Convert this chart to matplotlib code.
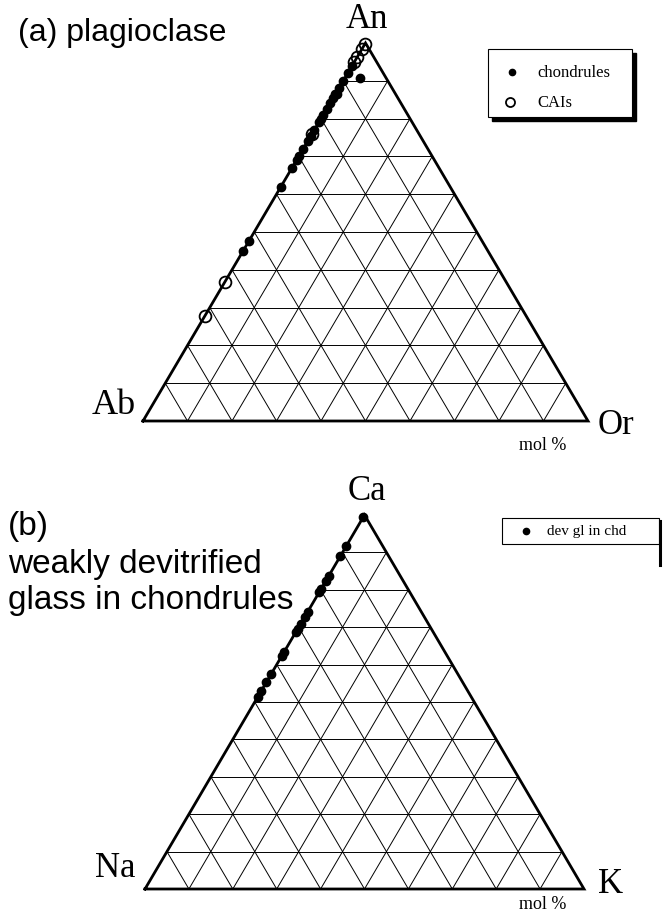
import numpy as np
import matplotlib
matplotlib.use('Agg')
import matplotlib.pyplot as plt
from matplotlib.patches import Rectangle

plt.rcParams['font.family'] = ['Liberation Serif', 'DejaVu Serif']
SANS = ['Liberation Sans', 'DejaVu Sans']

# (a) plagioclase, mol fractions (An, Or); Ab is the rest
chd_an = [0.94, 0.92, 0.90, 0.88, 0.865, 0.865, 0.855, 0.84, 0.825, 0.81,
          0.80, 0.79, 0.77, 0.755, 0.74, 0.72, 0.70, 0.69, 0.67, 0.62,
          0.475, 0.45, 0.907]
chd_or = [0.0, 0.0, 0.0, 0.0, 0.0, 0.004, 0.0, 0.0, 0.0, 0.0,
          0.0, 0.0, 0.0, 0.0, 0.0, 0.0, 0.0, 0.0, 0.0, 0.0,
          0.0, 0.0, 0.034]
cai_an = [0.997, 0.984, 0.963, 0.95, 0.76, 0.368, 0.278]
cai_or = [0.0, 0.0, 0.0, 0.0, 0.0, 0.0, 0.0]

# (b) glass in chondrules, atom fractions (Ca, K); Na is the rest
gl_ca = [0.995, 0.917, 0.89, 0.837, 0.824, 0.802, 0.794, 0.741, 0.727,
         0.709, 0.695, 0.687, 0.634, 0.623, 0.575, 0.553, 0.529, 0.513]
gl_k = [0.0] * len(gl_ca)

fig = plt.figure(figsize=(6.63, 9.2), dpi=100)
ax = fig.add_axes([0, 0, 1, 1])
ax.set_xlim(0, 663)
ax.set_ylim(920, 0)
ax.axis('off')


def tern(top, right, box):
    x0, x1, yb, yt = box
    top = np.asarray(top, float)
    right = np.asarray(right, float)
    x = x0 + (x1 - x0) * (right + top / 2)
    y = yb - (yb - yt) * top
    return x, y


def triangle(box):
    # grid lines every 10 mol %
    for f in np.arange(0.1, 1.0, 0.1):
        for p, q in [((f, 0), (f, 1 - f)),            # const top
                     ((0, f), (1 - f, f)),            # const right
                     ((0, 1 - f), (1 - f, 0))]:       # const left
            x, y = tern([p[0], q[0]], [p[1], q[1]], box)
            ax.plot(x, y, color='black', lw=0.7)
    x, y = tern([0, 1, 0, 0], [0, 0, 1, 0], box)
    ax.plot(x, y, color='black', lw=2.0, solid_joinstyle='miter')


box_a = (143, 588, 422, 44)
box_b = (145, 584, 890, 516)

triangle(box_a)
x, y = tern(chd_an, chd_or, box_a)
ax.plot(x, y, 'o', color='black', ms=6, ls='none', zorder=5)
x, y = tern(cai_an, cai_or, box_a)
ax.plot(x, y, 'o', mfc='none', mec='black', mew=1.3, ms=8.5, ls='none', zorder=5)

triangle(box_b)
x, y = tern(gl_ca, gl_k, box_b)
ax.plot(x, y, 'o', color='black', ms=6, ls='none', zorder=5)

# labels
ax.text(18, 33, '(a) plagioclase', fontsize=23, va='center', ha='left', family=SANS)
ax.text(367, 20, 'An', fontsize=25, va='center', ha='center')
ax.text(136, 406, 'Ab', fontsize=26, va='center', ha='right')
ax.text(598, 426, 'Or', fontsize=25, va='center', ha='left')
ax.text(543, 446, 'mol %', fontsize=13, va='center', ha='center')

ax.text(8, 527, '(b)', fontsize=24, va='center', ha='left', family=SANS)
ax.text(8, 565, 'weakly devitrified', fontsize=24, va='center', ha='left', family=SANS)
ax.text(8, 601, 'glass in chondrules', fontsize=24, va='center', ha='left', family=SANS)
ax.text(367, 492, 'Ca', fontsize=25, va='center', ha='center')
ax.text(136, 869, 'Na', fontsize=25, va='center', ha='right')
ax.text(598, 885, 'K', fontsize=25, va='center', ha='left')
ax.text(543, 905, 'mol %', fontsize=13, va='center', ha='center')

# legend (a)
ax.add_patch(Rectangle((492, 54), 144, 68, color='black', zorder=6))
ax.add_patch(Rectangle((488, 50), 144, 68, fc='white', ec='black', lw=0.8, zorder=7))
ax.plot(512, 73, 'o', color='black', ms=4.5, zorder=8)
ax.text(537, 73, 'chondrules', fontsize=12, va='center', ha='left', zorder=8)
ax.plot(510, 103, 'o', mfc='none', mec='black', mew=1.3, ms=6.5, zorder=8)
ax.text(537, 103, 'CAIs', fontsize=12, va='center', ha='left', zorder=8)

# legend (b)
ax.add_patch(Rectangle((502, 519), 157, 26, fc='white', ec='black', lw=0.8, zorder=7))
ax.plot([660, 660], [522, 566], color='black', lw=2.2, zorder=8)
ax.plot(526, 532, 'o', color='black', ms=4.5, zorder=8)
ax.text(547, 532, 'dev gl in chd', fontsize=11, va='center', ha='left', zorder=8)

plt.savefig('out.png', dpi=100)
